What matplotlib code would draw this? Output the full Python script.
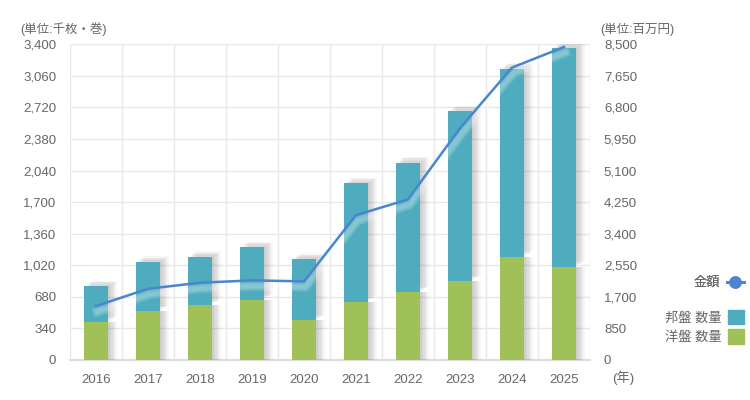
import numpy as np
import matplotlib
matplotlib.use("Agg")
import matplotlib.pyplot as plt
import matplotlib.patheffects as pe
from matplotlib.lines import Line2D
from matplotlib.patches import Patch

plt.rcParams['font.family'] = ['Liberation Sans', 'Noto Sans CJK JP', 'DejaVu Sans']

# --- data ---
years = ["2016", "2017", "2018", "2019", "2020", "2021", "2022", "2023", "2024", "2025"]
yoban = [406, 527, 595, 642, 427, 627, 728, 850, 1112, 1004]          # 洋盤 数量
total = [796, 1058, 1112, 1216, 1090, 1901, 2127, 2679, 3139, 3365]
hoban = [t - y for t, y in zip(total, yoban)]                          # 邦盤 数量
kingaku = [1453, 1918, 2080, 2144, 2117, 3900, 4323, 6241, 7873, 8428]  # 金額

left_ticks = [0, 340, 680, 1020, 1360, 1700, 2040, 2380, 2720, 3060, 3400]
right_ticks = [0, 850, 1700, 2550, 3400, 4250, 5100, 5950, 6800, 7650, 8500]

C_HOBAN = "#4FACBF"
C_YOBAN = "#A0C158"
C_LINE = "#4A86CC"
C_TEXT = "#666666"
C_GRID = "#E8E8E8"

fig = plt.figure(figsize=(7.5, 4.0), dpi=100)
ax = fig.add_axes([70 / 750, 40 / 400, 520 / 750, 315.7 / 400])
ax2 = ax.twinx()


def soft_shadow(dy_max):
    # a few faint offset copies to fake a blurred drop shadow
    fx = []
    for dx, dy in [(1, 0), (2, 1), (3, 2), (4, 3), (5, 3), (6, 4)]:
        fx.append(pe.SimplePatchShadow(offset=(dx, min(dy, dy_max)), shadow_rgbFace="#666666", alpha=0.06))
    fx.append(pe.Normal())
    return fx


x = np.arange(len(years))
b1 = ax.bar(x, yoban, width=0.48, color=C_YOBAN, zorder=3)
b2 = ax.bar(x, hoban, bottom=yoban, width=0.48, color=C_HOBAN, zorder=3)
for r1, r2 in zip(b1, b2):
    r1.set_path_effects(soft_shadow(0))
    r2.set_path_effects(soft_shadow(4))

ax.set_xlim(-0.5, len(years) - 0.5)
ax.set_ylim(0, 3400)
ax.set_yticks(left_ticks)
ax.set_yticklabels([f"{v:,}" for v in left_ticks])
ax.set_xticks(x)
ax.set_xticklabels(years)
ax.set_xticks(np.arange(-0.5, len(years)), minor=True)
ax.grid(True, axis="y", color=C_GRID, lw=1, zorder=0)
ax.grid(True, axis="x", which="minor", color=C_GRID, lw=1, zorder=0)
ax.tick_params(axis="x", which="both", length=0, pad=10, colors=C_TEXT, labelsize=9.5)
ax.tick_params(axis="y", length=0, pad=10, colors=C_TEXT, labelsize=9.5)

glow = [pe.SimpleLineShadow(offset=(1, -4), shadow_color="white", alpha=0.12, linewidth=w)
        for w in (7, 5, 3)]
ax2.plot(x, kingaku, color=C_LINE, lw=1.8, zorder=5, path_effects=glow + [pe.Normal()])
ax2.set_ylim(0, 8500)
ax2.set_yticks(right_ticks)
ax2.set_yticklabels([f"{v:,}" for v in right_ticks])
ax2.tick_params(axis="y", length=0, pad=10, colors=C_TEXT, labelsize=9.5)

for a in (ax, ax2):
    for s in a.spines.values():
        s.set_visible(False)
ax.spines["bottom"].set_visible(True)
ax.spines["bottom"].set_color("#DDDDDD")
ax.spines["bottom"].set_linewidth(1.5)

fig.text(20 / 750, 1 - 29 / 400, "(単位:千枚・巻)", fontsize=9, color=C_TEXT, va="center")
fig.text(600 / 750, 1 - 29 / 400, "(単位:百万円)", fontsize=9, color=C_TEXT, va="center")
fig.text(612 / 750, 1 - 378 / 400, "(年)", fontsize=9.5, color=C_TEXT, va="center")

leg_kw = dict(frameon=False, markerfirst=False, handletextpad=0.5, fontsize=9.5,
              labelcolor=C_TEXT, alignment="right", borderaxespad=0, borderpad=0)
leg1 = fig.legend([Line2D([0], [0], color=C_LINE, lw=2, marker="o", markersize=8)], ["金額"],
                  loc="center right", bbox_to_anchor=(744 / 750, 1 - 283 / 400),
                  handlelength=1.3, **leg_kw)
fig.add_artist(leg1)
fig.legend([Patch(color=C_HOBAN), Patch(color=C_YOBAN)], ["邦盤 数量", "洋盤 数量"],
           loc="center right", bbox_to_anchor=(744 / 750, 1 - 327 / 400),
           handlelength=1.2, handleheight=1.3, labelspacing=0.35, **leg_kw)

fig.savefig("out.png", dpi=100)
